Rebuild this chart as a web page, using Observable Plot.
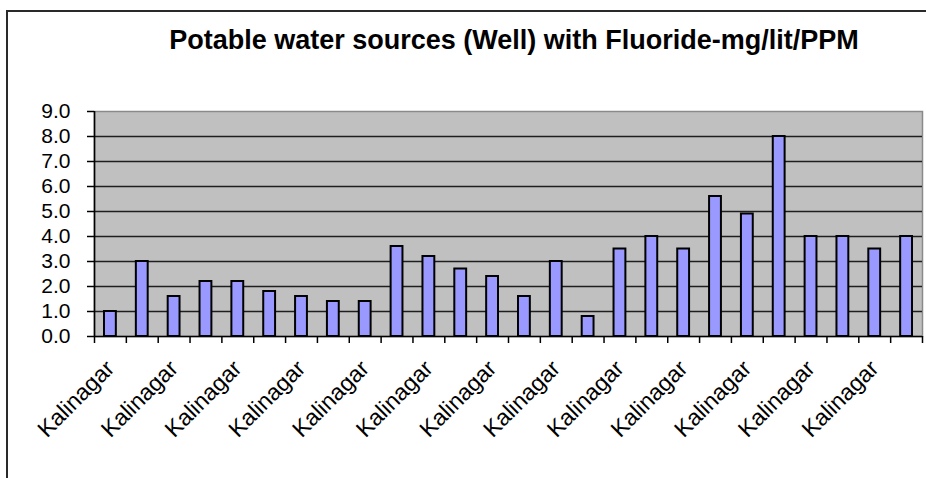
<!DOCTYPE html>
<html>
<head>
<meta charset="utf-8">
<script src="https://cdn.jsdelivr.net/npm/d3@7"></script>
<script src="https://cdn.jsdelivr.net/npm/@observablehq/plot@0.6"></script>
<style>
  html, body { margin: 0; padding: 0; background: #fff; overflow: hidden; }
  #wrap { position: relative; width: 926px; height: 478px; }
  #frame { position: absolute; left: 6px; top: 10px; width: 1000px; height: 600px;
           border-left: 2px solid #2a2a2a; border-top: 2px solid #2a2a2a; box-sizing: border-box; }
  #title { position: absolute; left: 0; top: 27px; width: 1028px; text-align: center;
           font-family: "Liberation Sans", Arial, sans-serif; font-weight: bold; font-size: 27px;
           line-height: 27px; color: #000; white-space: nowrap; }
  #chart { position: absolute; left: 0; top: 0; }
</style>
</head>
<body>
<div id="wrap">
  <div id="frame"></div>
  <div id="title">Potable water sources (Well) with Fluoride-mg/lit/PPM</div>
  <div id="chart"></div>
</div>
<script>
const categories = [
  "Kalinagar", "Kalinagar", "Kalinagar", "Kalinagar", "Kalinagar", "Kalinagar", "Kalinagar",
  "Kalinagar", "Kalinagar", "Kalinagar", "Kalinagar", "Kalinagar", "Kalinagar", "Kalinagar",
  "Kalinagar", "Kalinagar", "Kalinagar", "Kalinagar", "Kalinagar", "Kalinagar", "Kalinagar",
  "Kalinagar", "Kalinagar", "Kalinagar", "Kalinagar", "Kalinagar"
];
const fluoride = [1.0, 3.0, 1.6, 2.2, 2.2, 1.8, 1.6, 1.4, 1.4, 3.6, 3.2, 2.7, 2.4,
                  1.6, 3.0, 0.8, 3.5, 4.0, 3.5, 5.6, 4.9, 8.0, 4.0, 4.0, 3.5, 4.0];
const yTicks = [0, 1, 2, 3, 4, 5, 6, 7, 8, 9];
const labelStep = 2;

const data = categories.map((c, i) => ({i, category: c, value: fluoride[i]}));
const labelRows = data.filter(d => d.i % labelStep === 0);
const boundaries = d3.range(categories.length + 1);

const chart = Plot.plot({
  width: 926,
  height: 478,
  marginLeft: 94,
  marginRight: 4,
  marginTop: 111,
  marginBottom: 142,
  style: {fontFamily: "'Liberation Sans', Arial, sans-serif", background: "transparent", color: "#000"},
  x: {domain: [0, categories.length], axis: null},
  y: {domain: [0, 9], axis: null},
  marks: [
    Plot.frame({fill: "#c0c0c0", stroke: "#8a8a8a", strokeWidth: 1.5}),
    Plot.ruleY(yTicks.filter(t => t > 0 && t < 9), {stroke: "#1e1e1e", strokeWidth: 1.6}),
    Plot.rectY(data, {x1: "i", x2: d => d.i + 1, y: "value", fill: "#9999ff", stroke: "#000",
                      strokeWidth: 2, insetLeft: 10, insetRight: 10}),
    Plot.ruleX([0], {stroke: "#000", strokeWidth: 1.6}),
    Plot.ruleY([0], {stroke: "#000", strokeWidth: 1.6}),
    Plot.axisY({ticks: yTicks, tickFormat: d3.format(".1f"), tickSize: 7, tickPadding: 17,
                fontSize: 21, strokeWidth: 1.5, label: null}),
    Plot.axisX({ticks: boundaries, tickFormat: () => "", tickSize: 7, strokeWidth: 1.5, label: null}),
    Plot.text(labelRows, {x: d => d.i + 0.5, frameAnchor: "bottom", text: "category",
                          rotate: -45, textAnchor: "end", lineAnchor: "middle",
                          dx: 0, dy: 28, fontSize: 23, fill: "#000"})
  ]
});
document.getElementById("chart").append(chart);
</script>
</body>
</html>
